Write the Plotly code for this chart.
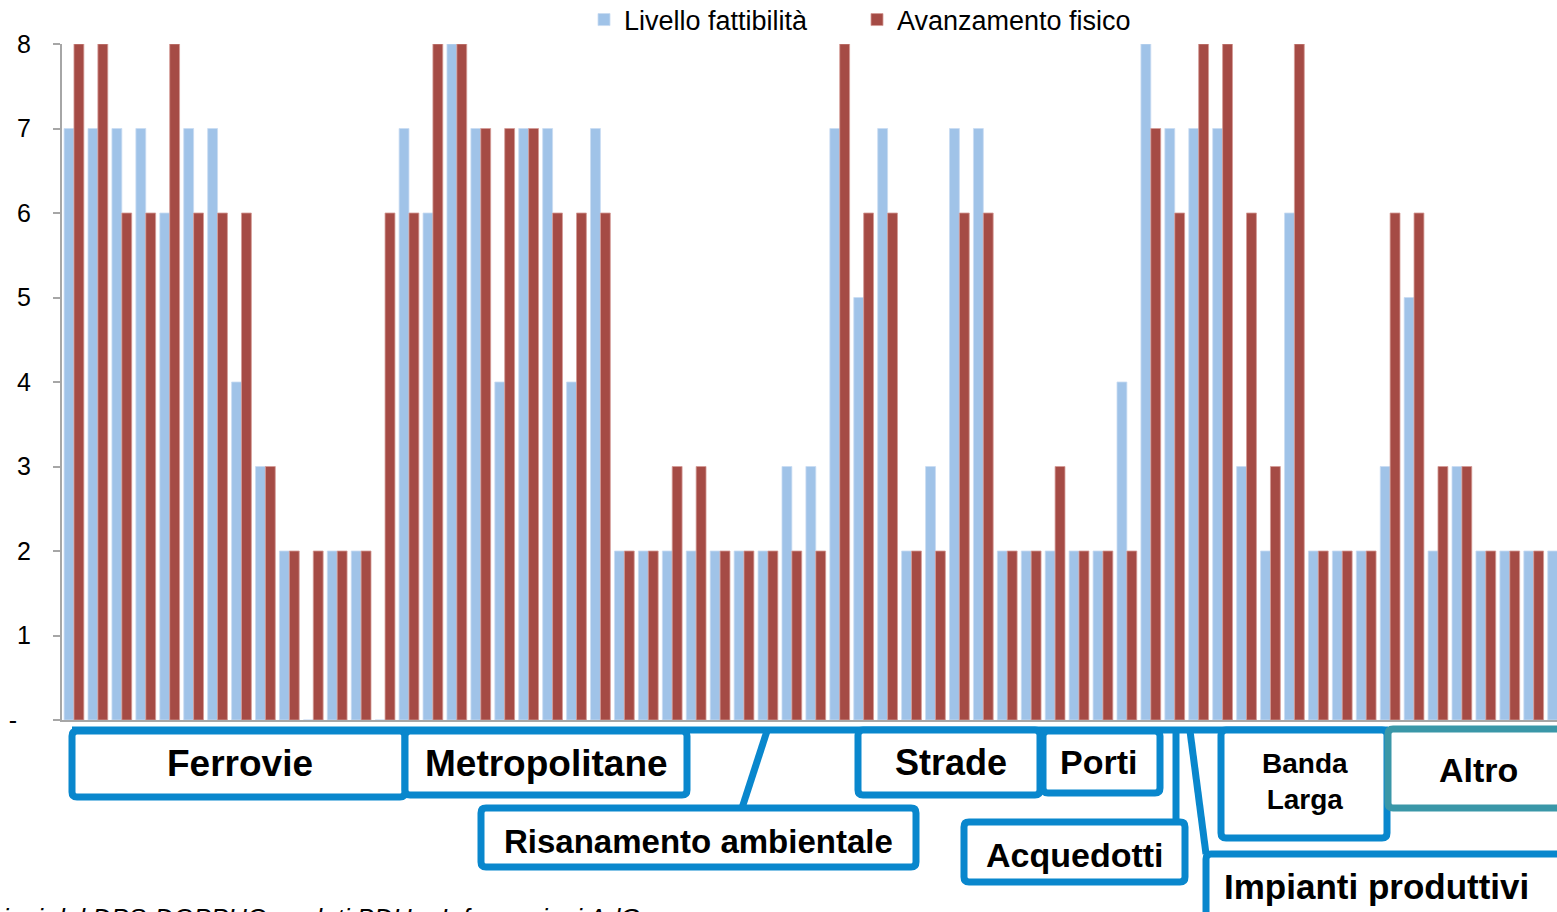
import plotly.graph_objects as go

# ---------------- data ----------------
project_ids = [str(i) for i in range(1, 64)]
livello_fattibilita = [7, 7, 7, 7, 6, 7, 7, 4, 3, 2, 0, 2, 2, 0,
                       7, 6, 8, 7, 4, 7, 7, 4, 7,
                       2, 2, 2, 2, 2, 2, 2, 3, 3,
                       7, 5, 7, 2, 3, 7, 7,
                       2, 2, 2, 2, 2, 4,
                       8, 7, 7, 7,
                       3, 2, 6, 2, 2, 2,
                       3, 5, 2, 3, 2, 2, 2, 2]
avanzamento_fisico = [8, 8, 6, 6, 8, 6, 6, 6, 3, 2, 2, 2, 2, 6,
                      6, 8, 8, 7, 7, 7, 6, 6, 6,
                      2, 2, 3, 3, 2, 2, 2, 2, 2,
                      8, 6, 6, 2, 2, 6, 6,
                      2, 2, 3, 2, 2, 2,
                      7, 6, 8, 8,
                      6, 3, 8, 2, 2, 2,
                      6, 6, 3, 3, 2, 2, 2, 2]
y_tick_values = [0, 1, 2, 3, 4, 5, 6, 7, 8]
y_tick_labels = ["-\u00a0\u00a0", "1", "2", "3", "4", "5", "6", "7", "8"]
series_names = ["Livello fattibilità", "Avanzamento fisico"]
sector_names = ["Ferrovie", "Metropolitane", "Risanamento ambientale", "Strade", "Porti",
                "Acquedotti", "Impianti produttivi", "Banda<br>Larga", "Altro"]
source_note = "Fonte: elaborazioni del DPS-DOPPUC su dati BDU e Informazioni AdG"

# ---------------- layout geometry (pixels) ----------------
W, H = 1557, 912
L, R, T, B = 62, 0, 44, 192
PW, PH = W - L - R, H - T - B
BLUE_C = "#A0C3E8"
RED_C = "#A54B45"
BOX_C = "#0987CD"
TEAL_C = "#3A97A8"
SW = 7


def px(x):
    return (x - L) / PW


def py(y):
    return (H - B - y) / PH


def rrect(x0, y0, x1, y1, r=5):
    pts = [("M", x0 + r, y0), ("L", x1 - r, y0), ("Q", x1, y0, x1, y0 + r),
           ("L", x1, y1 - r), ("Q", x1, y1, x1 - r, y1), ("L", x0 + r, y1),
           ("Q", x0, y1, x0, y1 - r), ("L", x0, y0 + r), ("Q", x0, y0, x0 + r, y0)]
    s = ""
    for p in pts:
        cmd = p[0]
        coords = p[1:]
        parts = []
        for i in range(0, len(coords), 2):
            parts.append(f"{px(coords[i]):.5f},{py(coords[i+1]):.5f}")
        s += cmd + " " + " ".join(parts) + " "
    return s + "Z"


def line_path(points):
    return "M " + " L ".join(f"{px(a):.5f},{py(b):.5f}" for a, b in points)


fig = go.Figure()
fig.add_trace(go.Bar(x=project_ids, y=livello_fattibilita, name=series_names[0],
                     marker=dict(color=BLUE_C, line=dict(color="#c9dcf2", width=0.8))))
fig.add_trace(go.Bar(x=project_ids, y=avanzamento_fisico, name=series_names[1],
                     marker=dict(color=RED_C, line=dict(color="#d49a96", width=0.8))))

shapes = []
# connecting top line
shapes.append(dict(type="path", path=line_path([(72, 730), (1388, 730)]),
                   xref="paper", yref="paper", line=dict(color=BOX_C, width=SW)))
# Risanamento connector
shapes.append(dict(type="path", path=line_path([(767, 731), (742, 808)]),
                   xref="paper", yref="paper", line=dict(color=BOX_C, width=SW)))
# Acquedotti connector
shapes.append(dict(type="path", path=line_path([(1176, 731), (1176, 822)]),
                   xref="paper", yref="paper", line=dict(color=BOX_C, width=SW)))
# Impianti connector
shapes.append(dict(type="path", path=line_path([(1190, 731), (1206, 854)]),
                   xref="paper", yref="paper", line=dict(color=BOX_C, width=SW)))

boxes = [
    (72, 731, 405, 797, BOX_C),      # Ferrovie
    (405, 731, 687, 795, BOX_C),     # Metropolitane
    (481, 808, 916, 867, BOX_C),     # Risanamento
    (858, 730, 1040, 795, BOX_C),    # Strade
    (1043, 731, 1160, 793, BOX_C),   # Porti
    (964, 822, 1185, 882, BOX_C),    # Acquedotti
    (1206, 854, 1580, 930, BOX_C),   # Impianti
    (1221, 730, 1387, 838, BOX_C),   # Banda Larga
    (1388, 729, 1580, 808, TEAL_C),  # Altro
]
for (x0, y0, x1, y1, c) in boxes:
    shapes.append(dict(type="path", path=rrect(x0, y0, x1, y1), xref="paper", yref="paper",
                       line=dict(color=c, width=SW), fillcolor="white"))

label_pos = [(240, 763), (546, 763), (698, 841), (951, 762), (1098, 762),
             (1075, 855), (1376, 886), (1305, 781), (1478, 770)]
label_size = [37, 37, 33, 36, 34, 34, 35, 28, 34]
annotations = []
for name, (x, y), s in zip(sector_names, label_pos, label_size):
    annotations.append(dict(text=f"<b>{name}</b>", x=px(x), y=py(y), xref="paper", yref="paper",
                            showarrow=False, xanchor="center", yanchor="middle",
                            font=dict(family="Liberation Sans, Arial, sans-serif", size=s, color="black")))
annotations.append(dict(text=f"<i>{source_note}</i>", x=px(642), y=py(918), xref="paper", yref="paper",
                        showarrow=False, xanchor="right", yanchor="middle",
                        font=dict(family="Liberation Sans, Arial, sans-serif", size=26, color="black")))

fig.update_layout(
    width=W, height=H, autosize=False,
    margin=dict(l=L, r=R, t=T, b=B, pad=0, autoexpand=False),
    paper_bgcolor="white", plot_bgcolor="white",
    barmode="group", bargap=0.175, bargroupgap=0,
    font=dict(family="Liberation Sans, Arial, sans-serif", color="black"),
    shapes=shapes, annotations=annotations,
    legend=dict(orientation="h", x=px(584), y=py(20), xanchor="left", yanchor="middle",
                font=dict(size=27), bgcolor="rgba(0,0,0,0)", entrywidth=228,
                itemclick=False),
)
fig.update_xaxes(range=[-0.5, -0.5 + PW / 23.93], showticklabels=False, ticks="",
                 showgrid=False, showline=True, linecolor="#a6a6a6", linewidth=2, zeroline=False)
fig.update_yaxes(range=[0, 8], tickvals=y_tick_values, ticktext=y_tick_labels, ticks="outside",
                 ticklen=7, tickcolor="#a6a6a6", tickwidth=2, showgrid=False, showline=True,
                 linecolor="#a6a6a6", linewidth=2, zeroline=False, ticklabelstandoff=17,
                 tickfont=dict(size=25, color="black"))

fig.write_html("out.html", config={"displayModeBar": False},
               post_script="document.body.style.margin='0px';document.body.style.overflow='hidden';")
